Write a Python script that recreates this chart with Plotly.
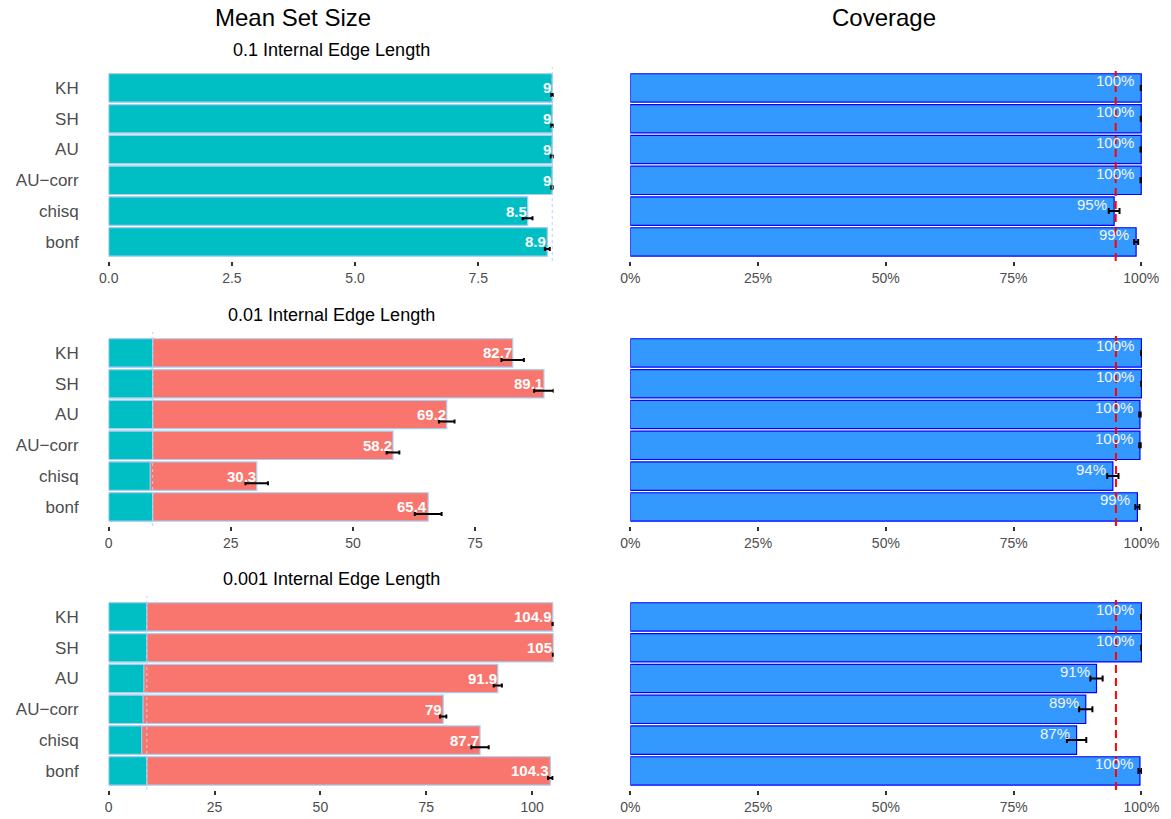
import plotly.graph_objects as go

# ---- data -------------------------------------------------------------
methods = ["KH", "SH", "AU", "AU\u2212corr", "chisq", "bonf"]
panel_titles = ["0.1 Internal Edge Length",
                "0.01 Internal Edge Length",
                "0.001 Internal Edge Length"]

# mean set size (total), the part made of true trees, and error half-widths
size_total_01 = [9, 9, 9, 9, 8.5, 8.9]
size_true_01 = [9, 9, 9, 9, 8.5, 8.9]
size_err_01 = [0.02, 0.02, 0.03, 0.02, 0.1, 0.05]

size_total_001 = [82.7, 89.1, 69.2, 58.2, 30.3, 65.4]
size_true_001 = [9, 9, 9, 9, 8.5, 9]
size_err_001 = [2.3, 2.0, 1.6, 1.3, 2.3, 2.75]

size_total_0001 = [104.9, 105, 91.9, 79, 87.7, 104.3]
size_true_0001 = [9, 9, 8.3, 8.1, 7.8, 9]
size_err_0001 = [0.1, 0.1, 0.96, 0.74, 2.05, 0.52]

true_set_size = 9

# coverage (fraction) and error half-widths
coverage_01 = [1.0, 1.0, 1.0, 1.0, 0.947, 0.99]
coverage_err_01 = [0.001, 0.001, 0.0015, 0.0015, 0.0105, 0.004]

coverage_001 = [1.0, 1.0, 0.997, 0.997, 0.944, 0.992]
coverage_err_001 = [0.001, 0.001, 0.0015, 0.0015, 0.011, 0.004]

coverage_0001 = [1.0, 1.0, 0.912, 0.891, 0.873, 0.997]
coverage_err_0001 = [0.001, 0.001, 0.012, 0.013, 0.019, 0.003]

nominal_level = 0.95

size_totals = [size_total_01, size_total_001, size_total_0001]
size_trues = [size_true_01, size_true_001, size_true_0001]
size_errs = [size_err_01, size_err_001, size_err_0001]
coverages = [coverage_01, coverage_001, coverage_0001]
coverage_errs = [coverage_err_01, coverage_err_001, coverage_err_0001]
size_ticks = [[0, 2.5, 5, 7.5], [0, 25, 50, 75], [0, 25, 50, 75, 100]]
size_tickfmt = [".1f", "d", "d"]

# ---- layout geometry (pixels) -----------------------------------------
W, H = 1171, 819
left_px = (108.7, 553.7)
right_px = (630.3, 1142.0)
rows_px = [(67, 261), (332, 526), (596, 790)]

FONT = "Liberation Sans, Arial, Helvetica, sans-serif"
TEAL = "#00BFC4"
SALMON = "#F8766D"
OUTLINE = "#a8cdf2"
COV_FILL = "#3399FF"
COV_LINE = "#0000FF"
GREY = "#4d4d4d"

pos = [len(methods) - 1 - i for i in range(len(methods))]


def xdom(a, b):
    return [a / W, b / W]


def ydom(top, bottom):
    return [1 - bottom / H, 1 - top / H]


def ax(letter, n):
    return letter if n == 1 else f"{letter}{n}"


fig = go.Figure()
layout = {}
shapes = []
annotations = []

for r in range(3):
    nl, nr = 2 * r + 1, 2 * r + 2
    xl, yl = ax("x", nl), ax("y", nl)
    xr, yr = ax("x", nr), ax("y", nr)
    top, bottom = rows_px[r]

    totals, trues, errs = size_totals[r], size_trues[r], size_errs[r]
    covs, cerrs = coverages[r], coverage_errs[r]

    # --- mean set size panel ---
    fig.add_trace(go.Bar(
        x=totals, y=pos, orientation="h", width=0.92,
        marker=dict(color=SALMON, line=dict(color=OUTLINE, width=1.2)),
        xaxis=xl, yaxis=yl, showlegend=False, hoverinfo="skip"))
    fig.add_trace(go.Bar(
        x=trues, y=pos, orientation="h", width=0.92,
        marker=dict(color=TEAL, line=dict(color=OUTLINE, width=1.2)),
        xaxis=xl, yaxis=yl, showlegend=False, hoverinfo="skip"))
    fig.add_trace(go.Scatter(
        x=totals, y=[p - 0.23 for p in pos], mode="markers",
        marker=dict(size=1, color="rgba(0,0,0,0)"),
        error_x=dict(type="data", array=errs, color="black",
                     thickness=2, width=2),
        xaxis=xl, yaxis=yl, showlegend=False, hoverinfo="skip"))

    for v, p in zip(totals, pos):
        annotations.append(dict(
            x=v, y=p, xref=xl, yref=yl, text=f"{v:g}", showarrow=False,
            xanchor="right", yanchor="middle", xshift=1,
            font=dict(family=FONT, size=15, color="white", weight="bold")))

    shapes.append(dict(
        type="line", xref=xl, yref=f"{yl} domain", x0=true_set_size,
        x1=true_set_size, y0=0, y1=1, layer="above",
        line=dict(color="#b5d3f5", width=1, dash="3px,3px")))

    xmax = max(t + e for t, e in zip(totals, errs))
    layout[ax("xaxis", nl)] = dict(
        domain=xdom(*left_px), anchor=yl, range=[0, xmax], automargin=False,
        tickvals=size_ticks[r], tickformat=size_tickfmt[r],
        ticks="outside", ticklen=4, tickwidth=1.5, tickcolor="#333333",
        showline=False, showgrid=False, zeroline=False,
        tickfont=dict(family=FONT, size=14, color=GREY))
    layout[ax("yaxis", nl)] = dict(
        domain=ydom(top, bottom), anchor=xl, range=[-0.62, 5.68],
        automargin=False,
        tickvals=pos, ticktext=methods, ticks="", showline=False,
        showgrid=False, zeroline=False, ticklabelstandoff=29,
        tickfont=dict(family=FONT, size=17, color=GREY))

    # --- coverage panel ---
    fig.add_trace(go.Bar(
        x=covs, y=pos, orientation="h", width=0.92,
        marker=dict(color=COV_FILL, line=dict(color=COV_LINE, width=1.2)),
        error_x=dict(type="data", array=cerrs, color="black",
                     thickness=2, width=3),
        xaxis=xr, yaxis=yr, showlegend=False, hoverinfo="skip"))

    for v, p in zip(covs, pos):
        annotations.append(dict(
            x=v, y=p, xref=xr, yref=yr, text=f"{round(v * 100)}%",
            showarrow=False, xanchor="right", yanchor="middle",
            xshift=-5, yshift=7,
            font=dict(family=FONT, size=15, color="#f4f4f4")))

    shapes.append(dict(
        type="line", xref=xr, yref=f"{yr} domain", x0=nominal_level,
        x1=nominal_level, y0=0, y1=1, layer="above",
        line=dict(color="red", width=2, dash="8px,5px")))

    cmax = max(c + e for c, e in zip(covs, cerrs))
    layout[ax("xaxis", nr)] = dict(
        domain=xdom(*right_px), anchor=yr, range=[0, cmax], automargin=False,
        tickvals=[0, 0.25, 0.5, 0.75, 1.0], tickformat=".0%",
        ticks="outside", ticklen=4, tickwidth=1.5, tickcolor="#333333",
        showline=False, showgrid=False, zeroline=False,
        tickfont=dict(family=FONT, size=14, color=GREY))
    layout[ax("yaxis", nr)] = dict(
        domain=ydom(top, bottom), anchor=xr, range=[-0.62, 5.68],
        automargin=False,
        showticklabels=False, ticks="", showline=False,
        showgrid=False, zeroline=False)

    # panel subtitle
    annotations.append(dict(
        x=(left_px[0] + left_px[1]) / 2 / W, y=1 - (top - 17) / H,
        xref="paper", yref="paper", text=panel_titles[r], showarrow=False,
        xanchor="center", yanchor="middle",
        font=dict(family=FONT, size=18, color="black")))

# column titles
annotations.append(dict(
    x=292.5 / W, y=1 - 17 / H, xref="paper", yref="paper",
    text="Mean Set Size", showarrow=False, xanchor="center",
    yanchor="middle", font=dict(family=FONT, size=24, color="black")))
annotations.append(dict(
    x=884 / W, y=1 - 17 / H, xref="paper", yref="paper",
    text="Coverage", showarrow=False, xanchor="center",
    yanchor="middle", font=dict(family=FONT, size=24, color="black")))

fig.update_layout(
    width=W, height=H, autosize=False,
    margin=dict(l=0, r=0, t=0, b=0, autoexpand=False),
    paper_bgcolor="white", plot_bgcolor="white",
    barmode="overlay", showlegend=False,
    shapes=shapes, annotations=annotations,
    **layout)

fig.write_html("out.html")
